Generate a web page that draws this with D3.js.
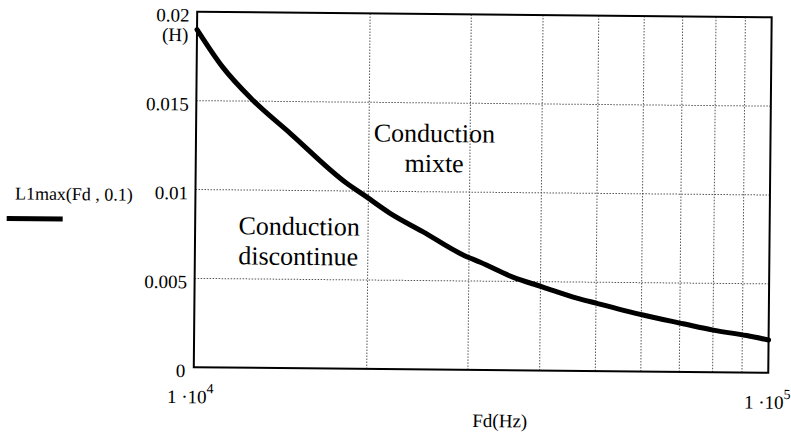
<!DOCTYPE html>
<html>
<head>
<meta charset="utf-8">
<script src="https://cdn.jsdelivr.net/npm/d3@7"></script>
<style>
  body { margin: 0; }
</style>
</head>
<body>
<svg id="chart" width="791" height="435"></svg>
<script>
// values
let freqHz = [10000, 11100, 12500, 14600, 18300, 19600, 21800, 24900, 29300, 31400,
              35800, 40400, 46300, 50200, 60400, 71000, 80000, 91600, 100000];
let l1max = [0.0190, 0.0169, 0.0151, 0.0132, 0.01045, 0.0098, 0.00878, 0.00775, 0.00646, 0.00606,
             0.00524, 0.0047, 0.0041, 0.00381, 0.00318, 0.00271, 0.00237, 0.00208, 0.00184];
let yTicks = [0, 0.005, 0.01, 0.015, 0.02];
let yTickLabels = ['0', '0.005', '0.01', '0.015', '0.02'];
let xGrid = [20000, 30000, 40000, 50000, 60000, 70000, 80000, 90000];
let xTickLabels = [{v: 10000, base: '1 \u00b710', exp: '4'}, {v: 100000, base: '1 \u00b710', exp: '5'}];
let seriesLabel = 'L1max(Fd , 0.1)';
let regionLabels = [
  {lines: ['Conduction', 'mixte'], f: 26000, l: 0.0128, anchor: 'middle'},
  {lines: ['Conduction', 'discontinue'], f: 11900, l: 0.0075, anchor: 'start'}
];

let margin = {top: 14.5, left: 195.5, right: 770, bottom: 370};

let svg = d3.select('#chart');
// the scan is slightly turned clockwise
let g = svg.append('g')
  .attr('transform', 'rotate(0.55, 482, 190)');

let x = d3.scaleLog().domain([10000, 100000]).range([margin.left, margin.right]);
let y = d3.scaleLinear().domain([0, 0.02]).range([margin.bottom, margin.top]);

// dotted grid
g.selectAll('.vgrid').data(xGrid).enter().append('line')
  .attr('x1', d => x(d)).attr('x2', d => x(d))
  .attr('y1', margin.top).attr('y2', margin.bottom)
  .attr('stroke', '#555').attr('stroke-dasharray', '1.5,1.5');
g.selectAll('.hgrid').data(yTicks.filter(d => d > 0 && d < 0.02)).enter().append('line')
  .attr('x1', margin.left).attr('x2', margin.right)
  .attr('y1', d => y(d)).attr('y2', d => y(d))
  .attr('stroke', '#555').attr('stroke-dasharray', '1.5,1.5');

// frame
g.append('rect')
  .attr('x', margin.left).attr('y', margin.top)
  .attr('width', margin.right - margin.left)
  .attr('height', margin.bottom - margin.top)
  .attr('fill', 'none').attr('stroke', '#000').attr('stroke-width', 2);

// the curve
let line = d3.line()
  .x((d, i) => x(freqHz[i]))
  .y(d => y(d))
  .curve(d3.curveMonotoneX);
g.append('path')
  .datum(l1max)
  .attr('d', line)
  .attr('fill', 'none')
  .attr('stroke', '#000')
  .attr('stroke-width', 5)
  .attr('stroke-linecap', 'round');

g.append('line').attr('x1', 7).attr('x2', 63).attr('y1', 223).attr('y2', 223)
  .attr('stroke', '#000').attr('stroke-width', 5);

// all texts
function label(px, py, size) {
  return g.append('text')
    .attr('x', px).attr('y', py)
    .style('font-family', "'Liberation Serif'")
    .attr('font-size', size);
}

yTicks.forEach(function (d, i) {
  label(i == 0 ? 187 : 188, y(d) + 10, 19)
    .attr('text-anchor', 'end')
    .text(yTickLabels[i]);
});
label(187, 44, 19).attr('text-anchor', 'end').text('(H)');

xTickLabels.forEach(function (t) {
  let tx = label(t.v == 10000 ? 169 : 746, 406, 19);
  tx.append('tspan').text(t.base);
  tx.append('tspan').attr('dy', -10).attr('font-size', 14).text(t.exp);
});

label(502, 427, 19).attr('text-anchor', 'middle').text('Fd(Hz)');
label(15, 204, 18).text(seriesLabel);

regionLabels.forEach(function (r) {
  r.lines.forEach(function (s, i) {
    label(x(r.f), y(r.l) + i * 30, 26)
      .attr('text-anchor', r.anchor)
      .text(s);
  });
});
</script>
</body>
</html>
